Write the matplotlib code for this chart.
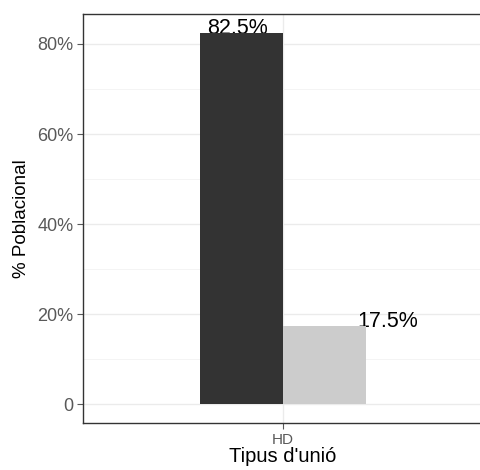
import numpy as np
import matplotlib.pyplot as plt
from matplotlib.ticker import MultipleLocator, FuncFormatter

plt.rcParams['font.family'] = ['Liberation Sans', 'DejaVu Sans']

# dades del grafic
categoria = ["HD"]
grups = ["A", "B"]
percentatges = [82.5, 17.5]
etiquetes = ["82.5%", "17.5%"]
colors = ["#333333", "#cccccc"]

amplada = 0.25
desplac_etiqueta = [-0.01, 0.19]

fig = plt.figure(figsize=(4.8, 4.7), dpi=100)
ax = fig.add_axes([0.173, 0.1, 0.833, 0.870])

x0 = 1
for i, val in enumerate(percentatges):
    xc = x0 + (i - 0.5) * amplada
    ax.bar(xc, val, width=amplada, color=colors[i], zorder=3)
    ax.text(xc + desplac_etiqueta[i], val - 0.3, etiquetes[i], ha='center',
            va='baseline', fontsize=15.5, color='black', zorder=2)

ymax = max(percentatges)
ax.set_ylim(-0.05 * ymax, 1.05 * ymax)
ax.set_xlim(0.4, 1.6)
ax.set_xticks([x0])
ax.set_xticklabels(categoria)
ax.yaxis.set_major_locator(MultipleLocator(20))
ax.yaxis.set_minor_locator(MultipleLocator(10))
ax.yaxis.set_major_formatter(FuncFormatter(lambda v, p: "0" if v == 0 else "%d%%" % v))

ax.grid(True, which='major', color='#ebebeb', linewidth=1.0, zorder=0)
ax.grid(True, which='minor', axis='y', color='#f2f2f2', linewidth=0.6, zorder=0)
ax.set_axisbelow(True)

for s in ax.spines.values():
    s.set_color('#333333')
    s.set_linewidth(1.0)

ax.tick_params(axis='y', which='major', labelsize=13, colors='#595959', length=4, width=0.8, pad=3)
ax.tick_params(axis='x', which='major', labelsize=11, colors='#595959', length=4, width=0.8, pad=3)
ax.tick_params(which='minor', length=0)

ax.set_xlabel("Tipus d'unió", fontsize=14.5, labelpad=0)
ax.set_ylabel("% Poblacional", fontsize=13.5, labelpad=5)

fig.savefig("out.png", dpi=100)
